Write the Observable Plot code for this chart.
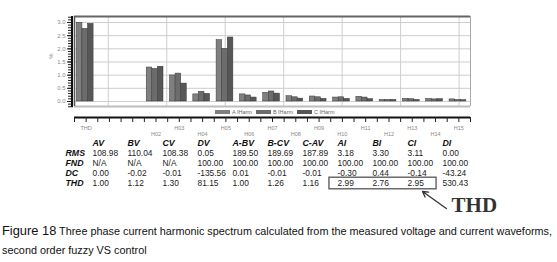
<!DOCTYPE html>
<html><head><meta charset="utf-8">
<script src="https://cdn.jsdelivr.net/npm/d3@7"></script>
<script src="https://cdn.jsdelivr.net/npm/@observablehq/plot@0.6"></script>
<style>
body{margin:0;background:#fff;}
#wrap{position:relative;width:557px;height:262px;overflow:hidden;font-family:"Liberation Sans",Arial,sans-serif;}
#wrap > *{position:absolute;}
.lg{font-size:5.5px;color:#666;display:flex;align-items:center;gap:2px;}
.sw{display:inline-block;width:15px;height:4px;}
</style></head><body><div id="wrap"></div>
<script>
// ---- data ----
const slots = ["THD","gap1","gap2","H02","H03","H04","H05","H06","H07","H08","H09","H10","H11","H12","H13","H14","H15"];
const slotLabels = ["THD","","","H02","H03","H04","H05","H06","H07","H08","H09","H10","H11","H12","H13","H14","H15"];
const seriesNames = ["A IHarm","B IHarm","C IHarm"];
const valuesA = [2.99,0,0,1.29,0.99,0.27,2.33,0.27,0.33,0.20,0.19,0.15,0.18,0.06,0.10,0.10,0.08];
const valuesB = [2.76,0,0,1.24,1.06,0.37,2.00,0.23,0.38,0.16,0.16,0.16,0.15,0.06,0.09,0.08,0.06];
const valuesC = [2.95,0,0,1.32,0.68,0.29,2.43,0.15,0.30,0.11,0.10,0.10,0.09,0.06,0.06,0.09,0.05];
const seriesColors = ["#7f7f7f","#6c6c6c","#575757"];
const yTicks = [0,0.5,1,1.5,2,2.5,3];
const yTickLabels = ["0.0","0.5","1.0","1.5","2.0","2.5","3.0"];
const xGridAt = [1.45,3.96,6.47,8.98,11.49,14.0,16.51];

const tableColumns = ["AV","BV","CV","DV","A-BV","B-CV","C-AV","AI","BI","CI","DI"];
const tableRows = ["RMS","FND","DC","THD"];
const rmsValues = ["108.98","110.04","108.38","0.05","189.50","189.69","187.89","3.18","3.30","3.11","0.00"];
const fndValues = ["N/A","N/A","N/A","100.00","100.00","100.00","100.00","100.00","100.00","100.00","100.00"];
const dcValues  = ["0.00","-0.02","-0.01","-135.56","0.01","-0.01","-0.01","-0.30","0.44","-0.14","-43.24"];
const thdValues = ["1.00","1.12","1.30","81.15","1.00","1.26","1.16","2.99","2.76","2.95","530.43"];
const boxedColumns = ["AI","CI"];
const captionBold = "Figure 18";
const captionText = " Three phase current harmonic spectrum calculated from the measured voltage and current waveforms,";
const captionText2 = "second order fuzzy VS control";

// ---- chart ----
const wrap = document.getElementById("wrap");
const seriesValues = [valuesA, valuesB, valuesC];
const bars = [];
seriesValues.forEach((vals, s) => vals.forEach((v, i) => { if (v > 0) bars.push({slot: i, s, name: seriesNames[s], value: v}); }));

const yLo = -0.608, yHi = 3.228, panelLo = -0.19;
const barOffset = 0.1, barW = 0.24;
const halfTicks = d3.range(0, slots.length + 0.01, 0.5);
const minorTicks = d3.range(-2, 33).map(d => d / 10);
const upperPos = slots.map((s, i) => i).filter(i => slotLabels[i] && i % 2 === 0).map(i => i + 0.5);
const lowerPos = slots.map((s, i) => i).filter(i => slotLabels[i] && i % 2 === 1).map(i => i + 0.5);

const chart = Plot.plot({
  width: 557, height: 140,
  marginLeft: 74, marginRight: 87, marginTop: 16, marginBottom: 23,
  x: {type: "linear", domain: [0, slots.length], axis: null, label: null},
  y: {domain: [yLo, yHi], axis: null, label: null},
  color: {domain: seriesNames, range: seriesColors},
  style: {fontFamily: "Liberation Sans, Arial, sans-serif", background: "transparent", overflow: "visible"},
  marks: [
    Plot.ruleY(yTicks, {stroke: "#cdcdcd", strokeWidth: 1}),
    Plot.ruleX(xGridAt, {y1: panelLo, y2: yHi, stroke: "#cdcdcd", strokeWidth: 1}),
    Plot.rect(bars, {x1: d => d.slot + barOffset + barW * d.s, x2: d => d.slot + barOffset + barW * (d.s + 1), y1: 0, y2: "value", fill: "name", stroke: "#3a3a3a", strokeWidth: 0.5}),
    Plot.ruleY([yHi], {stroke: "#666", strokeWidth: 2}),
    Plot.ruleY([panelLo], {stroke: "#bdbdbd", strokeWidth: 2}),
    Plot.ruleX([0], {y1: panelLo, y2: yHi, stroke: "#555", strokeWidth: 1.5}),
    Plot.ruleX([slots.length], {y1: panelLo, y2: yHi, stroke: "#aaa", strokeWidth: 1}),
    Plot.ruleX([0], {y1: panelLo - 0.05, y2: yHi, dx: -2.5, stroke: "#111", strokeWidth: 2}),
    Plot.axisY(minorTicks, {anchor: "left", tickSize: 3, dx: -3, tickFormat: () => "", stroke: "#222", label: null}),
    Plot.axisY(yTicks, {anchor: "left", tickSize: 4, tickPadding: 2, dx: -3, tickFormat: d => yTickLabels[yTicks.indexOf(d)], fontSize: 6, fill: "#8a8a8a", stroke: "#222", label: null}),
    Plot.ruleY([yLo], {stroke: "#111", strokeWidth: 2}),
    Plot.axisX(halfTicks, {anchor: "bottom", tickSize: 5, tickFormat: () => "", stroke: "#222", label: null}),
    Plot.axisX(upperPos, {anchor: "bottom", tickSize: 0, tickPadding: 9, tickFormat: d => slotLabels[Math.floor(d)], fontSize: 5.5, fill: "#888", label: null}),
    Plot.axisX(lowerPos, {anchor: "bottom", tickSize: 0, tickPadding: 15, tickFormat: d => slotLabels[Math.floor(d)], fontSize: 5.5, fill: "#888", label: null})
  ]
});
chart.style.left = "0px"; chart.style.top = "0px";
wrap.appendChild(chart);

// y unit label
const pct = document.createElement("div");
pct.textContent = "%";
pct.style.cssText = "left:48px;top:53px;font-size:6px;color:#888;transform:rotate(-90deg);";
wrap.appendChild(pct);

// legend
const lg = document.createElement("div");
lg.className = "lg";
lg.style.cssText = "left:215px;top:109px;";
seriesNames.forEach((n, i) => {
  const sw = document.createElement("span"); sw.className = "sw"; sw.style.background = seriesColors[i];
  const t = document.createElement("span"); t.textContent = n; t.style.marginRight = "2px";
  lg.appendChild(sw); lg.appendChild(t);
});
wrap.appendChild(lg);

// ---- table ----
const rowValues = [rmsValues, fndValues, dcValues, thdValues];
const cells = [];
rowValues.forEach((vals, r) => vals.forEach((v, c) => cells.push({r: r + 1, c, v})));
const heads = tableColumns.map((h, c) => ({c, h}));
const rowHeads = tableRows.map((h, r) => ({r: r + 1, h}));
const thdRow = tableRows.length;
const boxData = [{c1: tableColumns.indexOf(boxedColumns[0]), c2: tableColumns.indexOf(boxedColumns[1]), r: thdRow}];

const table = Plot.plot({
  width: 557, height: 90,
  marginLeft: 0, marginRight: 0, marginTop: 0, marginBottom: 0,
  x: {type: "linear", domain: [0, tableColumns.length - 1], range: [92, 442], axis: null},
  y: {type: "linear", domain: [0, tableRows.length], range: [10, 50], axis: null},
  style: {fontFamily: "Liberation Sans, Arial, sans-serif", background: "transparent", overflow: "visible"},
  marks: [
    Plot.text(heads, {x: "c", y: 0, text: "h", textAnchor: "start", fontSize: 8.8, fontWeight: "bold", fontStyle: "italic", fill: "#111"}),
    Plot.text(rowHeads, {frameAnchor: "left", dx: 65, y: "r", text: "h", textAnchor: "start", fontSize: 8.8, fontWeight: "bold", fontStyle: "italic", fill: "#111"}),
    Plot.text(cells, {x: "c", y: "r", text: "v", textAnchor: "start", fontSize: 8.4, fill: "#222"}),
    Plot.rect(boxData, {x1: d => d.c1 - 0.23, x2: d => d.c2 + 0.83, y1: d => d.r - 0.58, y2: d => d.r + 0.58, fill: "none", stroke: "#555", strokeWidth: 1.3}),
    Plot.arrow([{x1: 10.11, y1: 6.5, x2: 9.43, y2: 4.8}], {x1: "x1", y1: "y1", x2: "x2", y2: "y2", stroke: "#333", strokeWidth: 1.3, headLength: 7}),
    Plot.text(["THD"], {x: [10.26], y: [6.2], textAnchor: "start", fontSize: 21, fontWeight: "bold", fontFamily: "Liberation Serif, Times New Roman, serif", fill: "#333"})
  ]
});
table.style.left = "0px"; table.style.top = "133px";
wrap.appendChild(table);

// caption (SVG text, fitted to the reference line width)
const NS = "http://www.w3.org/2000/svg";
const cap = document.createElementNS(NS, "svg");
cap.setAttribute("width", 557); cap.setAttribute("height", 40);
cap.style.cssText = "left:0px;top:222px;font-family:'Liberation Sans',Arial,sans-serif;";
wrap.appendChild(cap);
const t1 = document.createElementNS(NS, "text");
t1.setAttribute("x", 2); t1.setAttribute("y", 13); t1.setAttribute("font-size", 10.8); t1.setAttribute("fill", "#111");
const tb = document.createElementNS(NS, "tspan"); tb.setAttribute("font-size", 12.8); tb.textContent = captionBold;
t1.appendChild(tb); t1.appendChild(document.createTextNode(captionText));
cap.appendChild(t1);
const t2 = document.createElementNS(NS, "text");
t2.setAttribute("x", 2); t2.setAttribute("y", 32); t2.setAttribute("font-size", 10.8); t2.setAttribute("fill", "#111");
t2.textContent = captionText2;
cap.appendChild(t2);
const natural1 = t1.getComputedTextLength();
const ratio = 550 / natural1;
t1.setAttribute("textLength", 550); t1.setAttribute("lengthAdjust", "spacingAndGlyphs");
const natural2 = t2.getComputedTextLength();
t2.setAttribute("textLength", natural2 * ratio); t2.setAttribute("lengthAdjust", "spacingAndGlyphs");
</script></body></html>
